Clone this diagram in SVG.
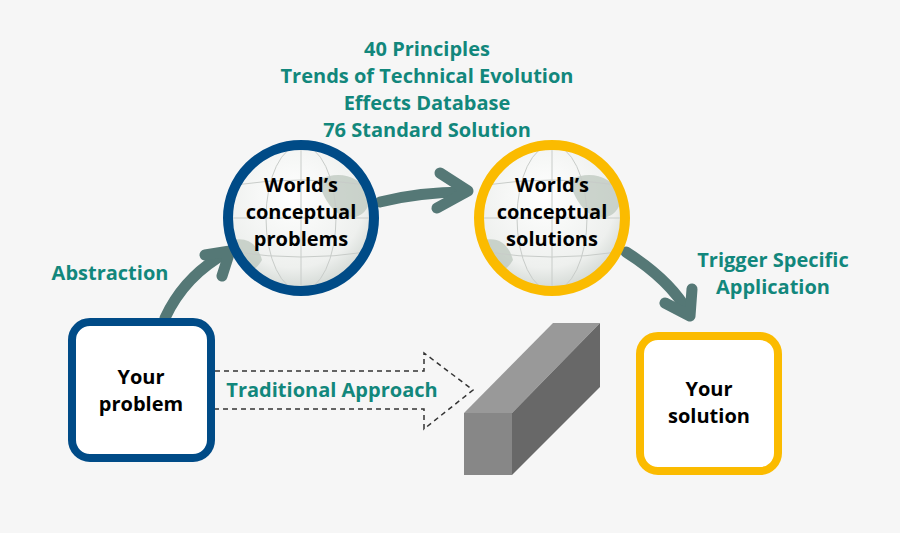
<svg xmlns="http://www.w3.org/2000/svg" width="900" height="533" viewBox="0 0 900 533">
<defs>
<radialGradient id="globe" cx="0.45" cy="0.35" r="0.7">
<stop offset="0" stop-color="#ffffff"/><stop offset="0.7" stop-color="#eef0ee"/><stop offset="1" stop-color="#c9d0cb"/>
</radialGradient>
<style>
.t{font-family:"Open Sans","Liberation Sans",sans-serif;font-weight:bold;fill:#12877c;font-size:20px;text-anchor:middle}
.n{font-family:"Open Sans","Liberation Sans",sans-serif;font-weight:bold;fill:#000;font-size:20px;text-anchor:middle}
.arr{fill:none;stroke:#557876;stroke-width:11;stroke-linecap:round;stroke-linejoin:round}
.grid{fill:none;stroke:#c8ccc9;stroke-width:1}
.land{fill:#b9c4ba;opacity:0.7}
</style>
</defs>
<rect width="900" height="533" fill="#f6f6f6"/>
<g id="titles">
<text class="t" x="427" y="56">40 Principles</text>
<text class="t" x="427" y="83">Trends of Technical Evolution</text>
<text class="t" x="427" y="110">Effects Database</text>
<text class="t" x="427" y="137">76 Standard Solution</text>
</g>
<g id="connectors">
<path class="arr" d="M165,318 Q185,275 228,252"/>
<path class="arr" d="M205,255 L230,251 L222,276"/>
<path class="arr" d="M380,202 Q420,192 465,192"/>
<path class="arr" d="M440,173 L468,191 L437,208"/>
<path class="arr" d="M626,252 Q670,280 688,312"/>
<path class="arr" d="M665,303 L690,316 L692,289"/>
<path d="M215,371 H424 V353 L473,390 L424,429 V409 H215" fill="none" stroke="#333" stroke-width="1.5" stroke-dasharray="5,4"/>
<text class="t" x="332" y="397">Traditional Approach</text>
<text class="t" x="110" y="280">Abstraction</text>
<text class="t" x="773" y="267">Trigger Specific</text>
<text class="t" x="773" y="294">Application</text>
</g>
<g id="block">
<polygon points="464,413 553,323 600,323 512,413" fill="#999"/>
<polygon points="512,413 600,323 600,387 512,475" fill="#686868"/>
<rect x="464" y="413" width="48" height="62" fill="#878787"/>
</g>
<g id="problems">
<circle cx="301" cy="218" r="73" fill="url(#globe)"/>
<path class="land" d="M318,180 Q350,165 372,195 Q365,225 340,215 Q325,205 318,180Z M232,240 Q255,235 262,260 Q250,280 238,262Z"/>
<g class="grid"><ellipse cx="301" cy="218" rx="35" ry="73"/><line x1="301" y1="145" x2="301" y2="291"/><line x1="228" y1="218" x2="374" y2="218"/><path d="M235,185 Q301,175 367,185 M235,252 Q301,262 367,252"/></g>
<circle cx="301" cy="218" r="73" fill="none" stroke="#004b87" stroke-width="10"/>
<text class="n" x="301" y="192">World’s</text>
<text class="n" x="301" y="219">conceptual</text>
<text class="n" x="301" y="246">problems</text>
</g>
<g id="solutions">
<circle cx="552" cy="218" r="73" fill="url(#globe)"/>
<path class="land" d="M569,180 Q601,165 623,195 Q616,225 591,215 Q576,205 569,180Z M483,240 Q506,235 513,260 Q501,280 489,262Z"/>
<g class="grid"><ellipse cx="552" cy="218" rx="35" ry="73"/><line x1="552" y1="145" x2="552" y2="291"/><line x1="479" y1="218" x2="625" y2="218"/><path d="M486,185 Q552,175 618,185 M486,252 Q552,262 618,252"/></g>
<circle cx="552" cy="218" r="73" fill="none" stroke="#fbbb00" stroke-width="10"/>
<text class="n" x="552" y="192">World’s</text>
<text class="n" x="552" y="219">conceptual</text>
<text class="n" x="552" y="246">solutions</text>
</g>
<g id="your-problem">
<rect x="72" y="322" width="139" height="136" rx="18" fill="#fff" stroke="#004b87" stroke-width="8"/>
<text class="n" x="141" y="384">Your</text>
<text class="n" x="141" y="411">problem</text>
</g>
<g id="your-solution">
<rect x="640" y="336" width="138" height="135" rx="18" fill="#fff" stroke="#fbbb00" stroke-width="8"/>
<text class="n" x="709" y="396">Your</text>
<text class="n" x="709" y="423">solution</text>
</g>
</svg>
